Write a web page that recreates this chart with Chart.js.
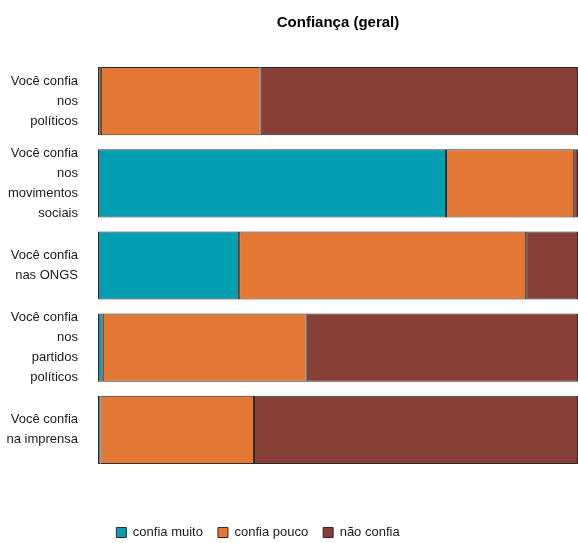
<!DOCTYPE html>
<html>
<head>
<meta charset="utf-8">
<script src="https://cdn.jsdelivr.net/npm/chart.js@4"></script>
<style>
  html, body { margin: 0; padding: 0; background: #fff; }
  #wrap { width: 578px; height: 543px; }
</style>
</head>
<body>
<div id="wrap"><canvas id="c" width="578" height="543"></canvas></div>
<script>
// categorias (linhas do gráfico, uma linha de texto por item)
const categorias = [
  ["Você confia", "nos", "políticos"],
  ["Você confia", "nos", "movimentos", "sociais"],
  ["Você confia", "nas ONGS"],
  ["Você confia", "nos", "partidos", "políticos"],
  ["Você confia", "na imprensa"],
];

const series = ["confia muito", "confia pouco", "não confia"];

// percentuais
const confiaMuito = [0.6, 72.5, 29.4, 1.0, 0.5];
const confiaPouco = [33.3, 26.7, 59.8, 42.5, 32.0];
const naoConfia = [66.1, 0.8, 10.8, 56.5, 67.5];

const cores = ["#049eb3", "#e27834", "#873f38"];

const fonte = "'Liberation Sans Narrow', 'Liberation Sans', Arial, sans-serif";

// título centrado no painel e legenda um pouco à esquerda/abaixo, como no original
const ajustarBlocos = {
  id: "ajustarBlocos",
  afterLayout(chart) {
    chart.titleBlock.left += 98;
    const lg = chart.legend;
    lg.left -= 62;
    lg.top += 6;
    lg.bottom += 6;
  },
};

new Chart(document.getElementById("c"), {
  type: "bar",
  data: {
    labels: categorias,
    datasets: [confiaMuito, confiaPouco, naoConfia].map((d, i) => ({
      label: series[i],
      data: d,
      backgroundColor: cores[i],
      borderColor: "#2b2b2b",
      borderWidth: 1,
      borderSkipped: false,
      barPercentage: 0.83,
      categoryPercentage: 1,
    })),
  },
  options: {
    responsive: false,
    maintainAspectRatio: false,
    animation: false,
    indexAxis: "y",
    layout: { padding: 0 },
    scales: {
      x: {
        stacked: true,
        min: 0,
        max: 100,
        grid: { display: false },
        border: { display: false },
        ticks: { display: false },
        afterFit: (s) => { s.height = 34; },
      },
      y: {
        stacked: true,
        grid: { display: false, drawTicks: false },
        border: { display: false },
        ticks: {
          autoSkip: false,
          padding: 20,
          color: "#1a1a1a",
          font: { family: fonte, size: 13, lineHeight: 1.54 },
        },
        afterFit: (s) => { s.width = 98; },
      },
    },
    plugins: {
      title: {
        display: true,
        text: "Confiança (geral)",
        color: "#000",
        font: { family: fonte, size: 15, weight: "bold" },
        padding: { top: 14, bottom: 28 },
      },
      legend: {
        position: "bottom",
        labels: {
          boxWidth: 10,
          boxHeight: 10,
          padding: 15,
          color: "#1a1a1a",
          font: { family: fonte, size: 13 },
        },
      },
      tooltip: { enabled: false },
    },
  },
  plugins: [ajustarBlocos],
});
</script>
</body>
</html>
